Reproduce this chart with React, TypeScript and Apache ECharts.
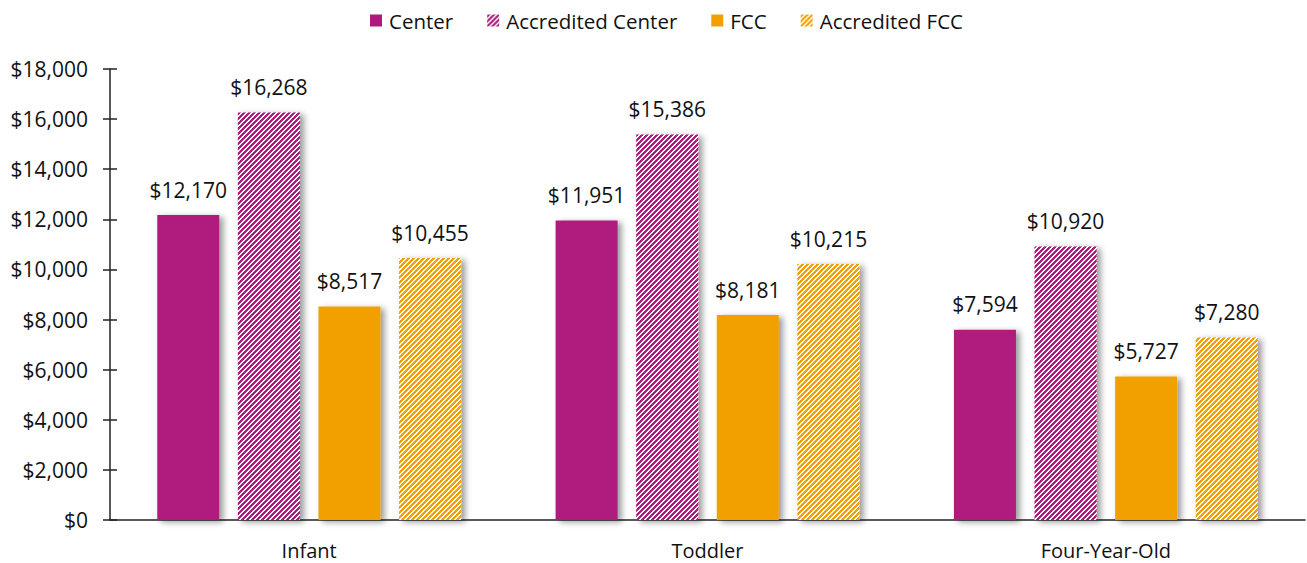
import React, { useEffect, useRef } from "react";
import * as echarts from "echarts";

const categories = ["Infant", "Toddler", "Four-Year-Old"];
const seriesNames = ["Center", "Accredited Center", "FCC", "Accredited FCC"];
const centerValues = [12170, 11951, 7594];
const accreditedCenterValues = [16268, 15386, 10920];
const fccValues = [8517, 8181, 5727];
const accreditedFccValues = [10455, 10215, 7280];
const yTicks = { min: 0, max: 18000, interval: 2000 };

const MAGENTA = "#B01A7D";
const ORANGE = "#F2A000";
const FONT = "'Open Sans', sans-serif";

const fmt = (v: number) => "$" + v.toLocaleString("en-US");

function hatch(color: string) {
  const n = 5;
  const c = document.createElement("canvas");
  c.width = n;
  c.height = n;
  const ctx = c.getContext("2d")!;
  ctx.fillStyle = "#ffffff";
  ctx.fillRect(0, 0, n, n);
  ctx.fillStyle = color;
  for (let y = 0; y < n; y++) {
    for (let x = 0; x < n; x++) {
      if ((x + y) % n < 3) ctx.fillRect(x, y, 1, 1);
    }
  }
  return { image: c, repeat: "repeat" };
}

export default function App() {
  const ref = useRef<HTMLDivElement>(null);
  useEffect(() => {
    document.body.style.margin = "0";
    if (!ref.current) return;
    const chart = echarts.init(ref.current, null, { renderer: "svg" });
    const mk = (name: string, data: number[], color: any) => ({
      name,
      type: "bar",
      data,
      barWidth: 62,
      barGap: "30%",
      itemStyle: {
        color,
        shadowColor: "rgba(0,0,0,0.4)",
        shadowBlur: 6,
        shadowOffsetX: 4,
        shadowOffsetY: 2,
      },
      label: {
        show: true,
        position: "top",
        distance: 15,
        formatter: (p: any) => fmt(p.value),
        fontFamily: FONT,
        fontSize: 21,
        color: "#111",
      },
    });
    chart.setOption({
      animation: false,
      textStyle: { fontFamily: FONT },
      legend: {
        top: 5,
        left: 365,
        itemWidth: 12,
        itemHeight: 12,
        itemGap: 34,
        icon: "rect",
        textStyle: { fontFamily: FONT, fontSize: 20.5, color: "#111", padding: [0, 0, 0, 2] },
        data: seriesNames,
      },
      grid: { left: 110, right: 2, top: 69, bottom: 43, containLabel: false },
      xAxis: {
        type: "category",
        data: categories,
        axisLine: { lineStyle: { color: "#222", width: 1.5 } },
        axisTick: { show: false },
        axisLabel: { fontFamily: FONT, fontSize: 20, color: "#111", margin: 20 },
      },
      yAxis: [
        {
          type: "value",
          min: yTicks.min,
          max: yTicks.max,
          interval: yTicks.interval,
          splitLine: { show: false },
          axisLine: { show: true, lineStyle: { color: "#222", width: 1.5 } },
          axisTick: { show: true, length: 7, lineStyle: { color: "#222", width: 1.5 } },
          axisLabel: { fontFamily: FONT, fontSize: 21, color: "#111", margin: 22, formatter: (v: number) => fmt(v) },
        },
        {
          type: "value",
          position: "left",
          min: yTicks.min,
          max: yTicks.max,
          interval: yTicks.interval,
          splitLine: { show: false },
          axisLine: { show: false },
          axisTick: { show: true, inside: true, length: 7, lineStyle: { color: "#222", width: 1.5 } },
          axisLabel: { show: false },
        },
      ],
      series: [
        mk(seriesNames[0], centerValues, MAGENTA),
        mk(seriesNames[1], accreditedCenterValues, hatch(MAGENTA)),
        mk(seriesNames[2], fccValues, ORANGE),
        mk(seriesNames[3], accreditedFccValues, hatch(ORANGE)),
      ],
    });
    return () => chart.dispose();
  }, []);
  return <div ref={ref} style={{ width: 1307, height: 563 }} />;
}
